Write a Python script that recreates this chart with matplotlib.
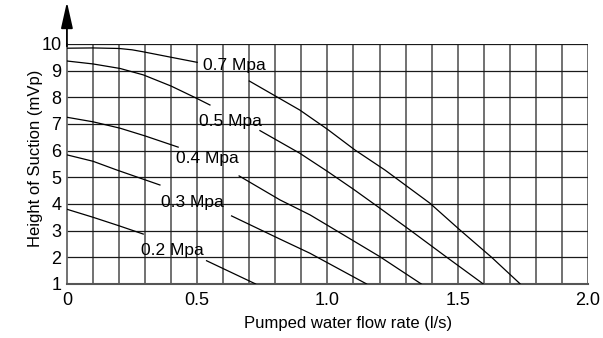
import numpy as np
import matplotlib
matplotlib.use('Agg')
from matplotlib import pyplot as plt

# curves, each cut in two around its label
p07_x1 = [0, 0.1, 0.2, 0.25, 0.29, 0.4, 0.5]
p07_y1 = [9.84, 9.85, 9.83, 9.78, 9.71, 9.50, 9.31]
p07_x2 = [0.70, 0.805, 0.894, 1.0, 1.106, 1.221, 1.30, 1.393, 1.509, 1.63, 1.74]
p07_y2 = [8.61, 8.02, 7.52, 6.80, 6.02, 5.27, 4.70, 4.03, 3.02, 2.0, 1.0]

p05_x1 = [0, 0.1, 0.204, 0.293, 0.4, 0.498, 0.549]
p05_y1 = [9.36, 9.25, 9.08, 8.84, 8.42, 7.96, 7.71]
p05_x2 = [0.741, 0.894, 1.0, 1.1, 1.2, 1.317, 1.458, 1.598]
p05_y2 = [6.75, 5.90, 5.22, 4.55, 3.85, 3.02, 2.0, 1.0]

p04_x1 = [0, 0.1, 0.204, 0.3, 0.427]
p04_y1 = [7.25, 7.08, 6.84, 6.55, 6.13]
p04_x2 = [0.661, 0.818, 0.933, 1.0, 1.2, 1.36]
p04_y2 = [5.05, 4.15, 3.59, 3.20, 2.03, 1.0]

p03_x1 = [0, 0.1, 0.192, 0.357]
p03_y1 = [5.84, 5.60, 5.27, 4.71]
p03_x2 = [0.632, 0.818, 0.933, 1.15]
p03_y2 = [3.55, 2.68, 2.15, 1.0]

p02_x1 = [0, 0.1, 0.2, 0.293]
p02_y1 = [3.80, 3.50, 3.18, 2.87]
p02_x2 = [0.536, 0.724]
p02_y2 = [1.87, 1.0]

labels = ['0.7 Mpa', '0.5 Mpa', '0.4 Mpa', '0.3 Mpa', '0.2 Mpa']
label_x = [0.641, 0.626, 0.541, 0.48, 0.403]
label_y = [9.21, 7.11, 5.72, 4.07, 2.27]

xticks = [0, 0.5, 1.0, 1.5, 2.0]
xticklabels = ['0', '0.5', '1.0', '1.5', '2.0']
yticks = [1, 2, 3, 4, 5, 6, 7, 8, 9, 10]

plt.rcParams['font.family'] = ['Liberation Sans', 'DejaVu Sans']

fig = plt.figure(figsize=(6.03, 3.38), dpi=100)
ax = fig.add_axes([0.111, 0.160, 0.864, 0.710])

# grid
for gx in np.arange(0.1, 2.01, 0.1):
    ax.axvline(gx, color='#666666', lw=1.3, zorder=1)
for gy in range(2, 11):
    ax.axhline(gy, color='#1a1a1a', lw=0.9, zorder=1)

curves = [(p07_x1, p07_y1, p07_x2, p07_y2),
          (p05_x1, p05_y1, p05_x2, p05_y2),
          (p04_x1, p04_y1, p04_x2, p04_y2),
          (p03_x1, p03_y1, p03_x2, p03_y2),
          (p02_x1, p02_y1, p02_x2, p02_y2)]
for x1, y1, x2, y2 in curves:
    ax.plot(x1, y1, color='black', lw=0.9, zorder=3)
    ax.plot(x2, y2, color='black', lw=0.9, zorder=3)

for t, lx, ly in zip(labels, label_x, label_y):
    ax.text(lx, ly, t, ha='center', va='center', fontsize=12.5, zorder=4)

ax.set_xlim(0, 2.0)
ax.set_ylim(1, 10)
ax.set_xticks(xticks)
ax.set_xticklabels(xticklabels)
ax.set_yticks(yticks)
ax.tick_params(length=0, labelsize=13)
ax.tick_params(axis='y', pad=4)
ax.tick_params(axis='x', pad=6)

for s in ['top', 'right']:
    ax.spines[s].set_visible(False)
ax.spines['left'].set_color('#666666')
ax.spines['left'].set_linewidth(1.3)
ax.spines['bottom'].set_color('#555555')
ax.spines['bottom'].set_linewidth(1.5)

# arrow on y axis
ax.annotate('', xy=(0, 1.175), xytext=(0, 0.99), xycoords='axes fraction',
            arrowprops=dict(arrowstyle='-|>,head_length=0.8,head_width=0.18',
                            mutation_scale=20, color='black', lw=1.3,
                            shrinkA=0, shrinkB=0))

ax.set_xlabel('Pumped water flow rate (l/s)', fontsize=12)
ax.set_ylabel('Height of Suction (mVp)', fontsize=12)
ax.xaxis.set_label_coords(0.539, -0.135)
ax.yaxis.set_label_coords(-0.045, 0.525)

fig.savefig('out.png', dpi=100)
